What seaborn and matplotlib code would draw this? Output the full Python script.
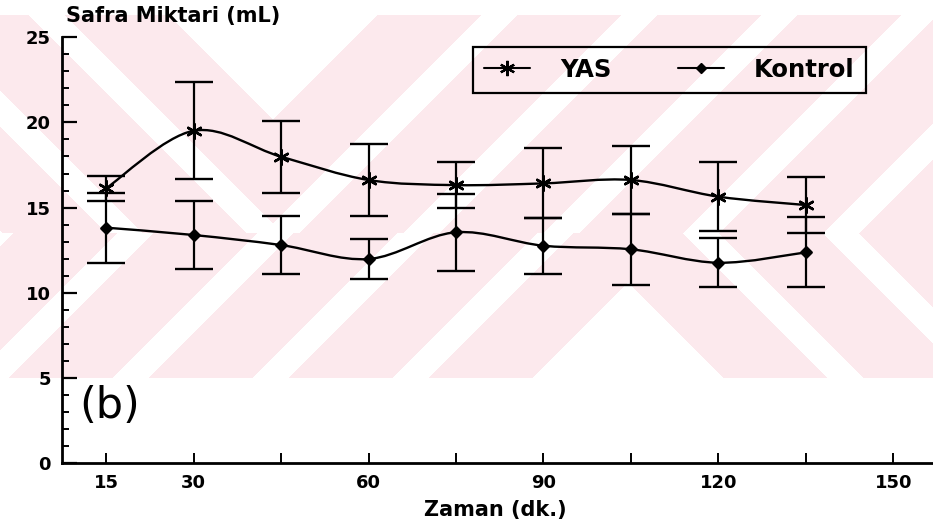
import numpy as np
import pandas as pd
import matplotlib
matplotlib.use("Agg")
import matplotlib.pyplot as plt
from matplotlib.path import Path
from matplotlib.patches import PathPatch
from matplotlib.lines import Line2D
from matplotlib.ticker import FixedLocator, FixedFormatter, MultipleLocator
import seaborn as sns

# Bile volume (mL) over time (min), mean and SD for each group
zaman = [15, 30, 45, 60, 75, 90, 105, 120, 135]
yas_ort = [16.13, 19.51, 17.99, 16.62, 16.32, 16.42, 16.62, 15.64, 15.15]
yas_sd = [0.75, 2.84, 2.11, 2.14, 1.35, 2.06, 2.00, 2.02, 1.66]
kontrol_ort = [13.82, 13.39, 12.80, 11.98, 13.55, 12.76, 12.55, 11.76, 12.37]
kontrol_sd = [2.06, 2.00, 1.68, 1.15, 2.27, 1.65, 2.10, 1.44, 2.05]

gruplar = ["YAS", "Kontrol"]
x_ticks = [15, 30, 45, 60, 75, 90, 105, 120, 135, 150]
x_tick_labels = ["15", "30", "", "60", "", "90", "", "120", "", "150"]
y_ticks = [0, 5, 10, 15, 20, 25]

df = pd.DataFrame({
    "Zaman": zaman * 2,
    "Miktar": yas_ort + kontrol_ort,
    "SD": yas_sd + kontrol_sd,
    "Grup": [gruplar[0]] * len(zaman) + [gruplar[1]] * len(zaman),
})

sns.set_theme(style="ticks")
plt.rcParams["font.family"] = ["DejaVu Sans"]
plt.rcParams["font.weight"] = "bold"
for key in ["text.color", "axes.labelcolor", "xtick.color", "ytick.color",
            "axes.edgecolor"]:
    plt.rcParams[key] = "black"

W, H = 933, 526
fig = plt.figure(figsize=(W / 100, H / 100), dpi=100)

# pale striped chevron band behind the plot
bg = fig.add_axes([0, 0, 1, 1], zorder=0)
xs = np.arange(W) + 0.5
ys = np.arange(H) + 0.5
X, Y = np.meshgrid(xs, ys)
period, pink_w = 140.0, 104.0
h_top = Y + np.abs(X - 273.0)
h_bot = Y - np.abs(X - 628.0)
top_half = Y < 233.0
pink_top = (h_top >= 120.0) & (((h_top - 120.0) % period) < pink_w)
pink_bot = (h_bot <= 282.0) & (((282.0 - h_bot) % period) < pink_w)
band = (Y >= 15) & (Y <= 378)
mask = band & np.where(top_half, pink_top, pink_bot)
img = np.ones((H, W, 3))
img[mask] = np.array([252, 233, 237]) / 255.0
bg.imshow(img, extent=(0, W, H, 0), aspect="auto", interpolation="nearest")
bg.set_axis_off()

ax = fig.add_axes([62 / W, (H - 463) / H, (W - 62) / W, (463 - 37.3) / H], zorder=1)
ax.set_facecolor("none")


def smooth_path(px, py):
    pts = np.column_stack([px, py]).astype(float)
    p = np.vstack([pts[0], pts, pts[-1]])
    verts = [pts[0]]
    codes = [Path.MOVETO]
    for i in range(1, len(p) - 2):
        p0, p1, p2, p3 = p[i - 1], p[i], p[i + 1], p[i + 2]
        verts += [p1 + (p2 - p0) / 6.0, p2 - (p3 - p1) / 6.0, p2]
        codes += [Path.CURVE4] * 3
    return Path(verts, codes)


markers = {"YAS": (6, 2, 0), "Kontrol": "D"}
sizes = {"YAS": 110, "Kontrol": 28}
for g in gruplar:
    d = df[df["Grup"] == g]
    ax.add_patch(PathPatch(smooth_path(d["Zaman"], d["Miktar"]), fill=False,
                           edgecolor="black", lw=1.7, zorder=3))
    ax.errorbar(d["Zaman"], d["Miktar"], yerr=d["SD"], fmt="none", ecolor="black",
                elinewidth=1.6, capsize=13.5, capthick=1.7, zorder=2)
    sns.scatterplot(data=d, x="Zaman", y="Miktar", marker=markers[g],
                    color="black", s=sizes[g], linewidth=1.8, edgecolor="black",
                    legend=False, ax=ax, zorder=4)

ax.set_xlim(7.44, 156.8)
ax.set_ylim(0, 25)
ax.xaxis.set_major_locator(FixedLocator(x_ticks))
ax.xaxis.set_major_formatter(FixedFormatter(x_tick_labels))
ax.yaxis.set_major_locator(FixedLocator(y_ticks))
ax.yaxis.set_minor_locator(MultipleLocator(1))
ax.set_xlabel("")
ax.set_ylabel("")

for side in ["top", "right"]:
    ax.spines[side].set_visible(False)
for side in ["left", "bottom"]:
    ax.spines[side].set_linewidth(2.0)
    ax.spines[side].set_color("black")

ax.tick_params(axis="y", which="major", direction="in", length=11, width=1.6,
               pad=8, labelsize=13, colors="black")
ax.tick_params(axis="y", which="minor", direction="in", length=5, width=1.4,
               colors="black")
ax.tick_params(axis="x", which="major", direction="in", length=7, width=1.4,
               pad=8, labelsize=13, colors="black")
for lab in ax.get_xticklabels() + ax.get_yticklabels():
    lab.set_fontweight("bold")

fig.text(66 / W, 1 - 16 / H, "Safra Miktari (mL)", fontsize=15, fontweight="bold",
         ha="left", va="center", color="black")
fig.text(495 / W, 1 - 510 / H, "Zaman (dk.)", fontsize=15, fontweight="bold",
         ha="center", va="center", color="black")
fig.text(79 / W, 1 - 406 / H, "(b)", fontsize=31, fontweight="normal",
         family=["Liberation Sans Narrow", "DejaVu Sans"], ha="left", va="center",
         color="black")

handles = [
    Line2D([0], [0], color="black", lw=1.5, marker=(6, 2, 0), markersize=11, mew=1.6),
    Line2D([0], [0], color="black", lw=1.5, marker="D", markersize=5.5),
]
leg = fig.legend(handles, gruplar, ncol=2, loc="upper left",
                 bbox_to_anchor=(473 / W, 1 - 47 / H),
                 bbox_transform=fig.transFigure, borderaxespad=0, borderpad=0.45,
                 handlelength=1.9, handletextpad=1.25, columnspacing=2.7,
                 fancybox=False, frameon=True, edgecolor="black",
                 facecolor="none", framealpha=1,
                 prop={"weight": "bold", "size": 17.5})
leg.get_frame().set_linewidth(1.6)
for t in leg.get_texts():
    t.set_color("black")

fig.savefig("out.png", dpi=100)
